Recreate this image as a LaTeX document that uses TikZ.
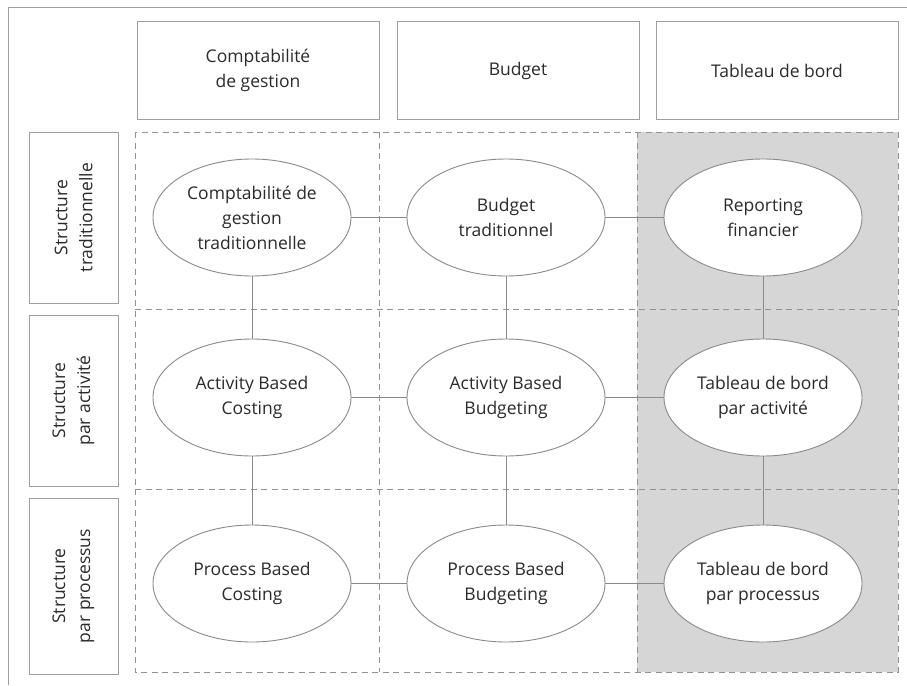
\documentclass[tikz,border=0pt]{standalone}
\usepackage{fontspec}
\setmainfont{Open Sans}
\usetikzlibrary{shapes.geometric}
\definecolor{linec}{HTML}{A0A0A0}
\definecolor{ellc}{HTML}{8A8A8A}
\definecolor{dashc}{HTML}{929292}
\definecolor{shadec}{HTML}{D6D6D6}
\definecolor{txt}{HTML}{2B2B2B}
\begin{document}
\begin{tikzpicture}[x=1pt,y=-1pt,
  txtstyle/.style={text=txt,font=\fontsize{17.5}{25}\selectfont,align=center},
  hdr/.style={txtstyle,draw=linec,line width=1pt,minimum width=242pt,minimum height=97pt,inner sep=0pt},
  rowlab/.style={txtstyle,draw=linec,line width=1pt,minimum width=89pt,inner sep=0pt},
  ell/.style={txtstyle,ellipse,draw=ellc,line width=0.9pt,fill=white,minimum width=198pt,minimum height=117pt,inner sep=0pt},
  conn/.style={draw=ellc,line width=0.9pt},
  gridline/.style={draw=dashc,line width=1pt,dash pattern=on 6pt off 4.5pt}]
\useasboundingbox (0,0) rectangle (907,685);
% outer frame
\draw[linec,line width=1pt] (8,685) -- (8,7.5) -- (907,7.5);
% headers
\node[hdr] (h1) at (258,70.5) {Comptabilité\\de gestion};
\node[hdr] (h2) at (518,70.5) {Budget};
\node[hdr] (h3) at (777,70.5) {Tableau de bord};
% row labels
\node[rowlab,minimum height=171pt] (r1) at (73.5,217.5) {};
\node[rowlab,minimum height=171pt] (r2) at (73.5,400.5) {};
\node[rowlab,minimum height=176pt] (r3) at (73.5,586) {};
\node[txtstyle,rotate=90] (t1) at (r1.center) {Structure\\traditionnelle};
\node[txtstyle,rotate=90] (t2) at (r2.center) {Structure\\par activité};
\node[txtstyle,rotate=90] (t3) at (r3.center) {Structure\\par processus};
% shaded column and dashed grid
\fill[shadec] (637,132) rectangle (898,672);
\draw[gridline] (135,132) rectangle (898,672);
\draw[gridline] (379,132) -- (379,672);
\draw[gridline] (637,132) -- (637,672);
\draw[gridline] (135,309) -- (898,309);
\draw[gridline] (135,489) -- (898,489);
% ellipses
\node[ell] (e11) at (252,217.5) {Comptabilité de\\gestion\\traditionnelle};
\node[ell] (e12) at (506,217.5) {Budget\\traditionnel};
\node[ell] (e13) at (763,217.5) {Reporting\\financier};
\node[ell] (e21) at (252,397.5) {Activity Based\\Costing};
\node[ell] (e22) at (506,397.5) {Activity Based\\Budgeting};
\node[ell] (e23) at (763,397.5) {Tableau de bord\\par activité};
\node[ell] (e31) at (252,583.5) {Process Based\\Costing};
\node[ell] (e32) at (506,583.5) {Process Based\\Budgeting};
\node[ell] (e33) at (763,583.5) {Tableau de bord\\par processus};
% connectors
\foreach \r in {1,2,3}{
  \draw[conn] (e\r1) -- (e\r2);
  \draw[conn] (e\r2) -- (e\r3);
}
\foreach \c in {1,2,3}{
  \draw[conn] (e1\c) -- (e2\c);
  \draw[conn] (e2\c) -- (e3\c);
}
\end{tikzpicture}
\end{document}
